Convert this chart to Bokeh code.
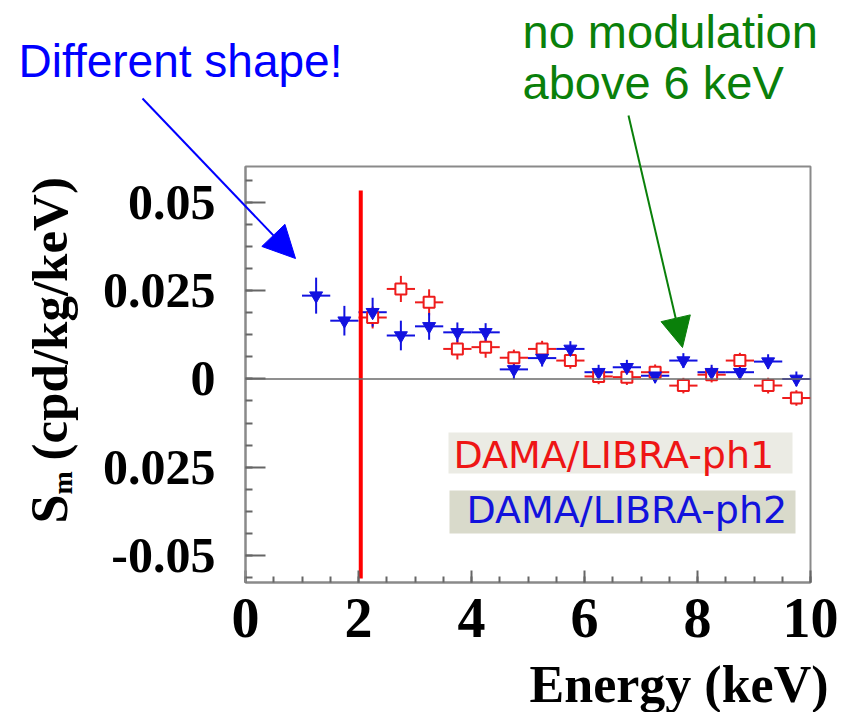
from bokeh.plotting import figure
from bokeh.models import (Label, Arrow, NormalHead, FixedTicker, BoxAnnotation,
                          Span, ColumnDataSource, Range1d)
from bokeh.embed import file_html
from bokeh.resources import INLINE
import math

# ---------------- data ----------------
# DAMA/LIBRA-ph2 (blue, inverted triangles), 0.5 keV bins
ph2_energy = [1.25, 1.75, 2.25, 2.75, 3.25, 3.75, 4.25, 4.75, 5.25, 5.75,
              6.25, 6.75, 7.25, 7.75, 8.25, 8.75, 9.25, 9.75]
ph2_sm = [0.0236, 0.0165, 0.0189, 0.0123, 0.0149, 0.0132, 0.0132, 0.0027, 0.0059, 0.0085,
          0.0019, 0.0033, 0.0009, 0.0052, 0.0019, 0.0019, 0.0049, 0.0000]
ph2_err = [0.0051, 0.0042, 0.0041, 0.0042, 0.0038, 0.0028, 0.0026, 0.0028, 0.0024, 0.0022,
           0.0021, 0.0021, 0.0021, 0.0021, 0.0021, 0.0021, 0.0021, 0.0021]

# DAMA/LIBRA-ph1 (red, open squares)
ph1_energy = [2.25, 2.75, 3.25, 3.75, 4.25, 4.75, 5.25, 5.75,
              6.25, 6.75, 7.25, 7.75, 8.25, 8.75, 9.25, 9.75]
ph1_sm = [0.0174, 0.0255, 0.0217, 0.0085, 0.0090, 0.0060, 0.0085, 0.0052,
          0.0007, 0.0005, 0.0019, -0.0019, 0.0012, 0.0052, -0.0019, -0.0054]
ph1_err = [0.0031, 0.0037, 0.0037, 0.0030, 0.0030, 0.0023, 0.0023, 0.0023,
           0.0022, 0.0022, 0.0022, 0.0022, 0.0022, 0.0022, 0.0022, 0.0022]

bin_half_width = 0.25
threshold_kev = 2.04

x_ticks = [0, 2, 4, 6, 8, 10]
x_tick_labels = ["0", "2", "4", "6", "8", "10"]
y_ticks = [-0.05, -0.025, 0.0, 0.025, 0.05]
y_tick_labels = ["-0.05", "0.025", "0", "0.025", "0.05"]

# ---------------- figure geometry ----------------
W, H = 841, 712
FL, FR, FT, FB = 245, 31, 166, 130
X0, X1 = 0.0, 10.0
Y0, Y1 = -0.0577, 0.0602
FW = W - FL - FR
FH = H - FT - FB
BASE_FIX = 0.35   # baseline correction (fraction of font size)


def dx(px):
    return X0 + (px - FL) / FW * (X1 - X0)


def dy(py):
    return Y1 - (py - FT) / FH * (Y1 - Y0)


def hlabel(plot, px, py, text, size, color, font, style="normal", align="left"):
    plot.add_layout(Label(x=dx(px), y=dy(py - BASE_FIX * size), text=text,
                          text_color=color, text_font=font, text_font_style=style,
                          text_font_size=f"{size}px", text_align=align,
                          text_baseline="alphabetic"))


def vlabel(plot, px, py, text, size, color, font, style="normal"):
    plot.add_layout(Label(x=dx(px - BASE_FIX * size), y=dy(py), text=text, angle=math.pi / 2,
                          text_color=color, text_font=font, text_font_style=style,
                          text_font_size=f"{size}px", text_align="left",
                          text_baseline="alphabetic"))


p = figure(width=W, height=H, output_backend="svg", toolbar_location=None,
           x_range=Range1d(X0, X1), y_range=Range1d(Y0, Y1),
           min_border_left=FL, min_border_right=FR, min_border_top=FT,
           min_border_bottom=FB)
p.grid.visible = False
p.outline_line_color = "#8a8a8a"
p.outline_line_width = 2
p.background_fill_color = "white"
p.border_fill_color = "white"

# axes
xa = p.xaxis[0]
xa.ticker = FixedTicker(ticks=x_ticks, minor_ticks=[i * 0.5 for i in range(0, 21)])
xa.major_label_overrides = {t: l for t, l in zip(x_ticks, x_tick_labels)}
ya = p.yaxis[0]
ya.ticker = FixedTicker(ticks=y_ticks, minor_ticks=[i * 0.00625 for i in range(-9, 10)])
ya.major_label_overrides = {t: l for t, l in zip(y_ticks, y_tick_labels)}

for ax in (xa, ya):
    ax.axis_line_color = "#8a8a8a"
    ax.axis_line_width = 2
    ax.major_tick_line_color = "#666666"
    ax.minor_tick_line_color = "#666666"
    ax.major_tick_line_width = 2
    ax.minor_tick_line_width = 2
    ax.major_tick_out = 0
    ax.minor_tick_out = 0
    ax.major_label_text_font = "Liberation Serif"
    ax.major_label_text_font_style = "bold"
    ax.major_label_text_color = "black"

xa.major_tick_in = 12
xa.minor_tick_in = 6
xa.major_label_text_font_size = "56px"
xa.major_label_standoff = 16
ya.major_tick_in = 20
ya.minor_tick_in = 7
ya.major_label_text_font_size = "50px"
ya.major_label_standoff = 30

# zero line
p.add_layout(Span(location=0, dimension="width", line_color="#6a6a6a", line_width=1.5))

# legend boxes
p.add_layout(BoxAnnotation(left=dx(448), right=dx(792), top=dy(432), bottom=dy(473),
                           fill_color="#ebebe4", fill_alpha=1, line_alpha=0, level="underlay"))
p.add_layout(BoxAnnotation(left=dx(449), right=dx(795), top=dy(490), bottom=dy(533),
                           fill_color="#d9dacb", fill_alpha=1, line_alpha=0, level="underlay"))


def err_source(xs, ys, es):
    return ColumnDataSource(dict(
        x=xs, y=ys,
        xl=[v - bin_half_width for v in xs], xr=[v + bin_half_width for v in xs],
        yl=[v - e for v, e in zip(ys, es)], yh=[v + e for v, e in zip(ys, es)]))


s1 = err_source(ph1_energy, ph1_sm, ph1_err)
s2 = err_source(ph2_energy, ph2_sm, ph2_err)

RED = "#ee1c1c"
BLUE = "#1212e0"
p.segment(x0="xl", y0="y", x1="xr", y1="y", source=s1, line_color=RED, line_width=2)
p.segment(x0="x", y0="yl", x1="x", y1="yh", source=s1, line_color=RED, line_width=2)
p.segment(x0="xl", y0="y", x1="xr", y1="y", source=s2, line_color=BLUE, line_width=2)
p.segment(x0="x", y0="yl", x1="x", y1="yh", source=s2, line_color=BLUE, line_width=2)
p.scatter("x", "y", source=s1, marker="square", size=11, fill_color="white",
          line_color=RED, line_width=2)
p.scatter("x", "y", source=s2, marker="inverted_triangle", size=13, fill_color=BLUE,
          line_color=BLUE, line_width=1)

# threshold line
p.segment(x0=[threshold_kev], y0=[dy(578)], x1=[threshold_kev], y1=[dy(190)],
          line_color="#ff0000", line_width=4)

# legend texts
hlabel(p, 453, 468, "DAMA/LIBRA-ph1", 38, "#ee1515", "DejaVu Sans")
hlabel(p, 466, 523, "DAMA/LIBRA-ph2", 38, "#1212dd", "DejaVu Sans")

# ---------------- transparent overlay for texts outside the frame ----------------
ov = figure(width=W, height=H, output_backend="svg", toolbar_location=None,
            x_range=Range1d(dx(0), dx(W)), y_range=Range1d(dy(H), dy(0)),
            min_border=0, x_axis_type=None, y_axis_type=None)
ov.grid.visible = False
ov.outline_line_color = None
ov.background_fill_alpha = 0
ov.border_fill_alpha = 0
ov.styles = {"position": "absolute", "top": "0px", "left": "0px", "z-index": "10"}

hlabel(ov, 828, 702, "Energy (keV)", 52, "black", "Liberation Serif", "bold", "right")
vlabel(ov, 67, 523, "S", 52, "black", "Liberation Serif", "bold")
vlabel(ov, 72, 494, "m", 28, "black", "Liberation Serif", "bold")
vlabel(ov, 67, 460, "(cpd/kg/keV)", 51, "black", "Liberation Serif", "bold")

hlabel(ov, 18, 77, "Different shape!", 46, "#0000ff", "Liberation Sans")
GREEN = "#0a800a"
hlabel(ov, 522, 47, "no modulation", 47, GREEN, "Liberation Sans")
hlabel(ov, 522, 98, "above 6 keV", 47, GREEN, "Liberation Sans")

ov.add_layout(Arrow(x_start=dx(142), y_start=dy(98), x_end=dx(295), y_end=dy(258),
                    line_color="#0000ff", line_width=2,
                    end=NormalHead(size=32, fill_color="#0000ff", line_color="#0000ff")))
ov.add_layout(Arrow(x_start=dx(628), y_start=dy(115), x_end=dx(682), y_end=dy(347),
                    line_color=GREEN, line_width=2,
                    end=NormalHead(size=30, fill_color=GREEN, line_color=GREEN)))

open("out.html", "w").write(file_html([p, ov], INLINE))
